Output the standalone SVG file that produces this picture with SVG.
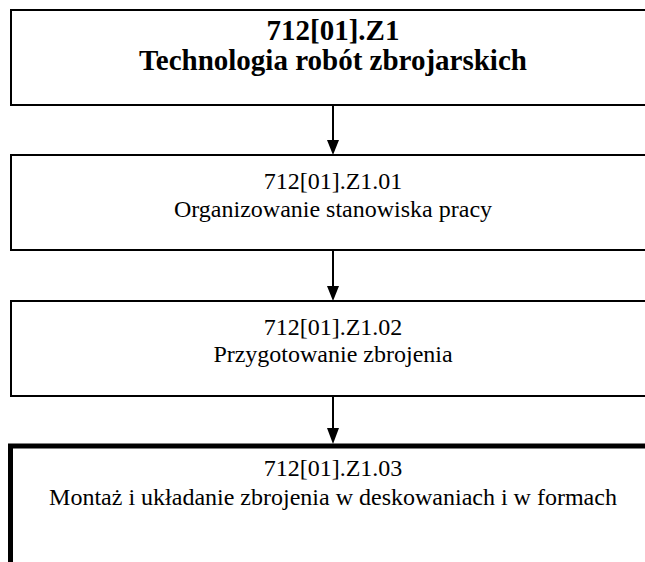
<svg xmlns="http://www.w3.org/2000/svg" width="645" height="562" viewBox="0 0 645 562">
  <style>
    .box { fill: #ffffff; stroke: #000000; stroke-width: 2; }
    .box-thick { fill: #ffffff; stroke: #000000; stroke-width: 5; }
    .t { font-family: "Liberation Serif", "Times New Roman", serif; fill: #000000; text-anchor: middle; font-size: 24px; }
    .title { font-weight: bold; font-size: 29px; }
    .edge { stroke: #000000; stroke-width: 2; fill: none; }
    .head { fill: #000000; }
  </style>
  <rect width="645" height="562" fill="#ffffff"/>

  <g id="node-z1">
    <rect class="box" x="11" y="10" width="660" height="95"/>
    <text class="t title" x="333" y="40">712[01].Z1</text>
    <text class="t title" x="333" y="70">Technologia robót zbrojarskich</text>
  </g>

  <g id="node-z1-01">
    <rect class="box" x="11" y="155" width="660" height="95"/>
    <text class="t" x="333" y="189">712[01].Z1.01</text>
    <text class="t" x="333" y="217">Organizowanie stanowiska pracy</text>
  </g>

  <g id="node-z1-02">
    <rect class="box" x="11" y="301" width="660" height="95"/>
    <text class="t" x="333" y="335">712[01].Z1.02</text>
    <text class="t" x="333" y="362">Przygotowanie zbrojenia</text>
  </g>

  <g id="node-z1-03">
    <rect class="box-thick" x="10.5" y="446" width="660" height="140"/>
    <text class="t" x="333" y="476">712[01].Z1.03</text>
    <text class="t" x="333" y="505">Montaż i układanie zbrojenia w deskowaniach i w formach</text>
  </g>

  <g id="connectors">
    <line class="edge" x1="333" y1="105" x2="333" y2="141"/>
    <polygon class="head" points="327,140 339,140 333,155"/>
    <line class="edge" x1="333" y1="250" x2="333" y2="287"/>
    <polygon class="head" points="327,286 339,286 333,301"/>
    <line class="edge" x1="333" y1="396" x2="333" y2="429"/>
    <polygon class="head" points="327,428 339,428 333,444"/>
  </g>
</svg>
